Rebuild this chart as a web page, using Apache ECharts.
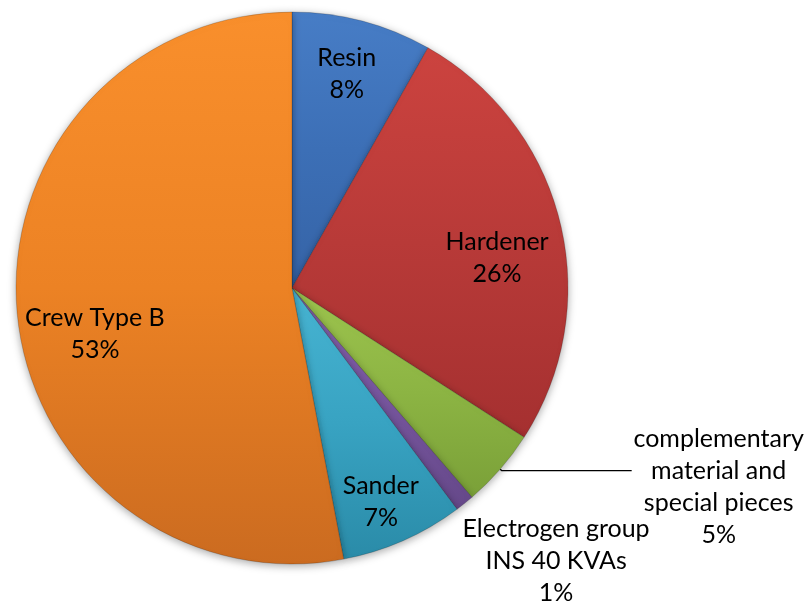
<!DOCTYPE html>
<html>
<head>
<meta charset="utf-8">
<script src="https://cdn.jsdelivr.net/npm/echarts@6/dist/echarts.min.js"></script>
<style>html,body{margin:0;padding:0;background:#fff;}#c{width:811px;height:601px;}</style>
</head>
<body>
<div id="c"></div>
<script>
var categories = ['Resin', 'Hardener', 'complementary material and special pieces', 'Electrogen group INS 40 KVAs', 'Sander', 'Crew Type B'];
var labelLines = [['Resin'], ['Hardener'], ['complementary', 'material and', 'special pieces'], ['Electrogen group', 'INS 40 KVAs'], ['Sander'], ['Crew Type B']];
var values = [8.2, 25.9, 4.6, 1.1, 7.2, 53.0];
var outsideIdx = [2, 3];

var palette = [
  ['#477DC6', '#3C6FB6', '#3563A6'],
  ['#CC433F', '#B83A38', '#A53030'],
  ['#9DC44E', '#8CB443', '#7AA038'],
  ['#8462AE', '#77569E', '#654889'],
  ['#47B4D2', '#38A3C2', '#2A8BA8'],
  ['#F98F2C', '#EC8224', '#CB6B20']
];

function grad(c) {
  return { type: 'linear', x: 0, y: 0, x2: 0, y2: 1,
    colorStops: [{ offset: 0, color: c[0] }, { offset: 0.5, color: c[1] }, { offset: 1, color: c[2] }] };
}
function fmt(p) {
  var lines = labelLines[p.dataIndex].slice();
  lines.push(Math.round(p.percent) + '%');
  return lines.map(function (l) { return '{a|' + l + '}'; }).join('\n');
}
var font = 'Lato, "Open Sans", sans-serif';
var rich = { a: { align: 'center', fontFamily: font, fontSize: 25, lineHeight: 32, color: '#000' } };

var mainData = categories.map(function (name, i) {
  var isOut = outsideIdx.indexOf(i) >= 0;
  var d = {
    name: name, value: values[i],
    itemStyle: { color: grad(palette[i]) },
    label: { show: isOut }
  };
  if (i === 2) {
    d.label = { show: true, position: 'outside', width: 180, overflow: 'none', formatter: fmt, rich: rich, distanceToLabelLine: 2 };
    d.labelLine = { show: true, length: 2, length2: 130, lineStyle: { color: '#000', width: 1.3 } };
  }
  if (i === 3) {
    d.label = { show: true, position: 'outside', width: 190, overflow: 'none', formatter: fmt, rich: rich, distanceToLabelLine: 0 };
    d.labelLine = { show: false, length: 68, length2: 0 };
  }
  return d;
});

var overlayData = categories.map(function (name, i) {
  var isOut = outsideIdx.indexOf(i) >= 0;
  return { name: name, value: values[i], label: { show: !isOut } };
});

var chart = echarts.init(document.getElementById('c'));
chart.setOption({
  animation: false,
  backgroundColor: '#fff',
  series: [{
    type: 'pie',
    center: [292, 288],
    radius: 276,
    startAngle: 90,
    clockwise: true,
    avoidLabelOverlap: false,
    silent: true,
    itemStyle: {
      borderColor: 'rgba(0,0,0,0.18)', borderWidth: 1,
      shadowBlur: 8, shadowColor: 'rgba(0,0,0,0.35)', shadowOffsetY: 2
    },
    label: { formatter: fmt, rich: rich },
    labelLayout: function (p) {
      if (p.dataIndex === 3) { return { dx: -46, dy: 4 }; }
      if (p.dataIndex === 2) { return { dx: -5, dy: 16 }; }
      return {};
    },
    data: mainData
  }, {
    type: 'pie',
    center: [292, 288],
    radius: [124, 276],
    startAngle: 90,
    clockwise: true,
    avoidLabelOverlap: false,
    silent: true,
    itemStyle: { color: 'rgba(0,0,0,0)', borderWidth: 0 },
    label: { position: 'inside', formatter: fmt, rich: rich },
    labelLine: { show: false },
    labelLayout: function (p) {
      if (p.dataIndex === 0) { return { dx: 3, dy: -18 }; }
      if (p.dataIndex === 1) { return { dx: 8, dy: 19 }; }
      if (p.dataIndex === 4) { return { dx: 7, dy: 28 }; }
      if (p.dataIndex === 5) { return { dx: 5, dy: 27 }; }
      return {};
    },
    data: overlayData
  }]
});
</script>
</body>
</html>
